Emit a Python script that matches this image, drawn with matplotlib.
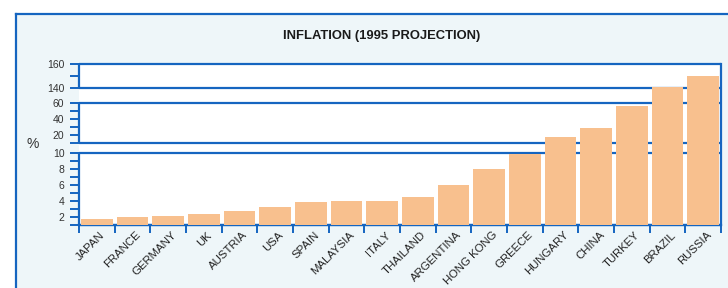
import numpy as np
import matplotlib.pyplot as plt
from matplotlib.patches import Rectangle
from matplotlib.lines import Line2D
from matplotlib.transforms import ScaledTranslation

countries = ["JAPAN", "FRANCE", "GERMANY", "UK", "AUSTRIA", "USA", "SPAIN",
             "MALAYSIA", "ITALY", "THAILAND", "ARGENTINA", "HONG KONG",
             "GREECE", "HUNGARY", "CHINA", "TURKEY", "BRAZIL", "RUSSIA"]
inflation = [1.8, 2.0, 2.1, 2.4, 2.7, 3.3, 3.9, 4.0, 4.05, 4.55, 6.0, 8.0,
             9.9, 18, 29, 56, 141, 150]

major_y = [2, 4, 6, 8, 10, 20, 40, 60, 140, 160]
minor_y = [1, 3, 5, 7, 9, 10.001, 30, 50, 150]

# broken y axis: value -> height (px) above the baseline
brk_val = [1, 10, 10.001, 60, 140, 160]
brk_pos = [0, 71.7, 81.7, 122.3, 136.7, 161]
segments = [(1, 10), (10.001, 60), (140, 160)]

BLUE = "#1565c0"
BAR = "#f8c08e"
plt.rcParams["font.family"] = ["Liberation Sans", "DejaVu Sans"]


def fwd(v):
    return np.interp(v, brk_val, brk_pos)


def inv(p):
    return np.interp(p, brk_pos, brk_val)


fig = plt.figure(figsize=(7.28, 2.88), dpi=100, facecolor="white")
fig.add_artist(Rectangle((16 / 728, 0), 1, 1 - 14 / 288, transform=fig.transFigure,
                         facecolor="#eef6f9", edgecolor="none", zorder=0))
fig.add_artist(Line2D([16 / 728, 16 / 728], [0, 1 - 14 / 288], color=BLUE, lw=1.6))
fig.add_artist(Line2D([16 / 728, 1], [1 - 14 / 288, 1 - 14 / 288], color=BLUE, lw=1.6))

ax = fig.add_axes([79 / 728, 63 / 288, 642 / 728, 161 / 288])
ax.set_yscale("function", functions=(fwd, inv))
x = np.arange(len(countries))
ax.bar(x, inflation, width=0.88, color=BAR, zorder=3)
ax.set_xlim(-0.5, len(countries) - 0.5)
ax.set_ylim(1, 160)

for s in ["left", "top"]:
    ax.spines[s].set_visible(False)
for s in ["right", "bottom"]:
    ax.spines[s].set_color(BLUE)
    ax.spines[s].set_linewidth(1.6)

for lo, hi in segments:
    ax.hlines([lo, hi], -0.5, len(countries) - 0.5, color=BLUE, lw=1.6, zorder=2, clip_on=False)
    ax.vlines(-0.5, lo, hi, color=BLUE, lw=1.6, zorder=2, clip_on=False)

ax.set_yticks(major_y, [str(v) for v in major_y])
ax.set_yticks(minor_y, minor=True)
ax.tick_params(axis="y", which="both", direction="out", length=6.5, width=1.4,
               color=BLUE, labelsize=7.5, pad=4, labelcolor="#333333")

ax.set_xticks(np.arange(len(countries) + 1) - 0.5)
ax.set_xticklabels([])
ax.tick_params(axis="x", which="major", direction="out", length=6, width=1.4, color=BLUE)
ax.set_xticks(x, countries, minor=True)
ax.tick_params(axis="x", which="minor", length=0, pad=3.5, labelsize=8.2, labelcolor="#222222")
off = ScaledTranslation(3 / 100, 0, fig.dpi_scale_trans)
for lab in ax.get_xticklabels(minor=True):
    lab.set_rotation(45)
    lab.set_ha("right")
    lab.set_va("top")
    lab.set_rotation_mode("anchor")
    lab.set_transform(lab.get_transform() + off)

fig.text(33 / 728, 1 - 144 / 288, "%", ha="center", va="center", fontsize=10, color="#333333")
fig.text(382 / 728, 1 - 36 / 288, "INFLATION (1995 PROJECTION)", ha="center", va="center",
         fontsize=9.4, fontweight="bold", color="#1a1a1a")

fig.savefig("out.png", dpi=100, facecolor=fig.get_facecolor())
